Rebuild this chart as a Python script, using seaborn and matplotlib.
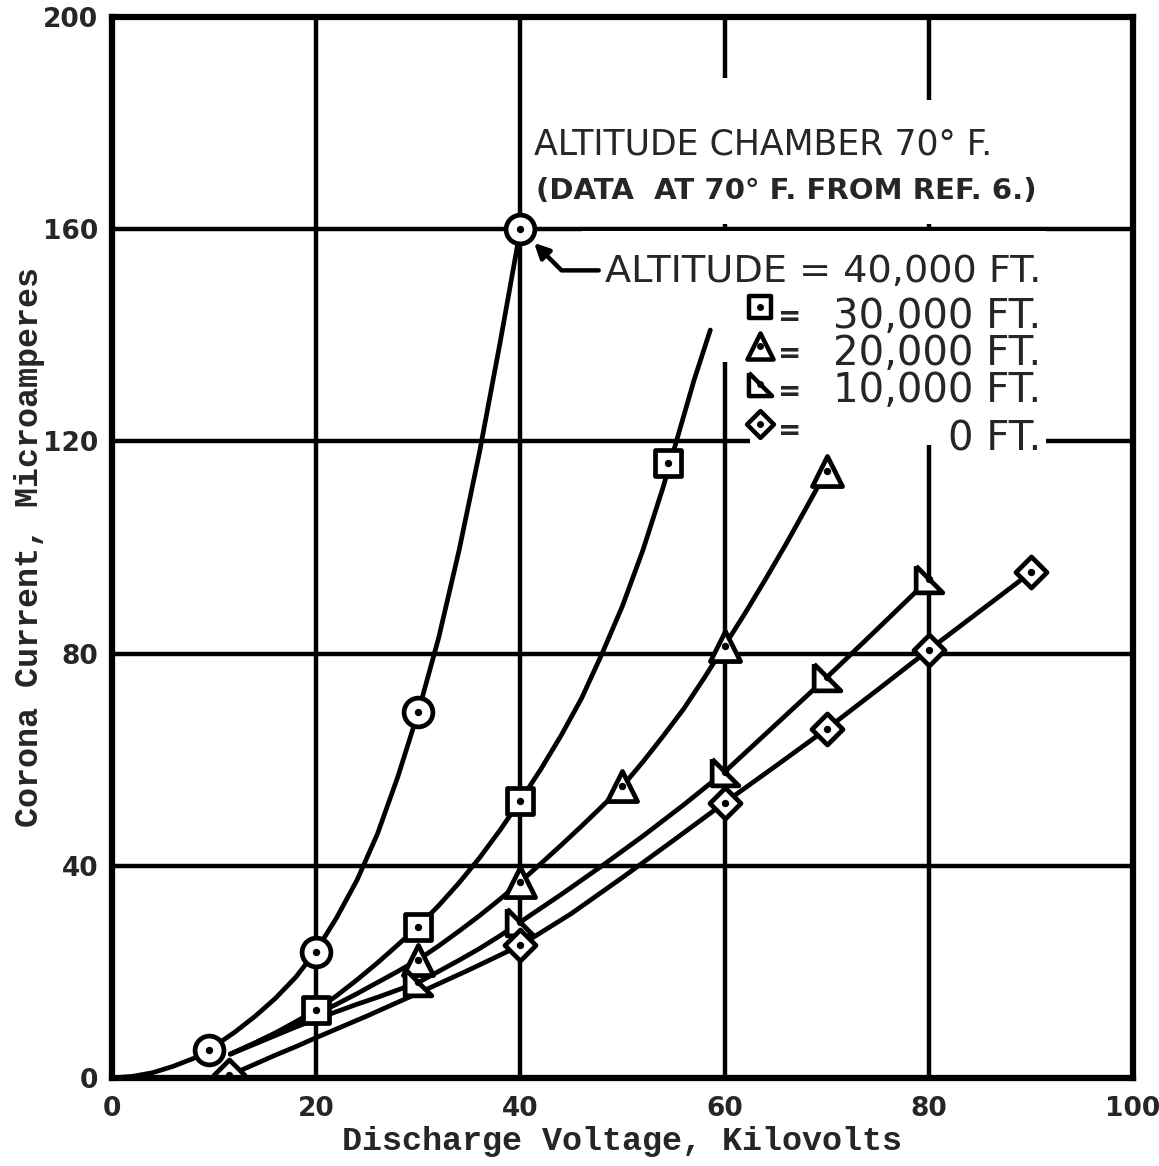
import matplotlib
matplotlib.use("Agg")
import matplotlib.pyplot as plt
from matplotlib.patches import Rectangle
import seaborn as sns
import pandas as pd

# ---------------- data ----------------
x_ticks = [0, 20, 40, 60, 80, 100]
y_ticks = [0, 40, 80, 120, 160, 200]
x_tick_labels = ["0", "20", "40", "60", "80", "100"]
y_tick_labels = ["0", "40", "80", "120", "160", "200"]

series_names = ["40,000 FT.", "30,000 FT.", "20,000 FT.", "10,000 FT.", "0 FT."]

# faired curves
c40_kv = [0, 2, 4, 6, 8, 9.5, 12, 14, 16, 18, 20, 22, 24, 26, 28, 30, 32, 34, 36, 38, 40]
c40_ua = [0, 0.3, 1.0, 2.2, 3.7, 5.3, 8.6, 11.6, 15.0, 19.0, 24, 30.2, 37.3, 46, 56.8,
          69, 83, 99.5, 118, 138.5, 160]
c30_kv = [11.6, 14, 16, 18, 20, 22, 24, 26, 28, 30, 32, 34, 36, 38, 40, 42, 44, 46, 48,
          50, 52, 54, 55.5, 57, 58.6]
c30_ua = [4.5, 6.6, 8.5, 10.6, 12.8, 15.5, 18.5, 21.7, 25.1, 28.6, 32.5, 36.8, 41.5,
          46.7, 52.3, 58.2, 64.6, 71.6, 80, 89, 99.5, 111.5, 121.5, 131.5, 141]
c20_kv = [11.6, 14, 16, 18, 20, 22, 24, 26, 28, 30, 32, 34, 36, 38, 40, 42, 44, 46, 48,
          50, 52, 54, 56, 58, 60, 62, 64, 66, 68, 70]
c20_ua = [4.5, 6.6, 8.4, 10.2, 12, 13.9, 15.9, 18, 20.1, 22.3, 24.9, 27.7, 30.6, 33.7,
          37, 40.4, 43.9, 47.5, 51.2, 55, 59.6, 64.5, 69.6, 75.4, 81.5, 87.6, 94, 100.6,
          107.5, 114.5]
c10_kv = [11.6, 14, 16, 18, 20, 22, 24, 26, 28, 30, 32, 34, 36, 38, 40, 44, 48, 52, 56,
          60, 65, 70, 75, 80]
c10_ua = [4.5, 6.4, 8.0, 9.6, 11.1, 12.5, 13.9, 15.2, 16.6, 18, 20.1, 22.2, 24.4, 26.8,
          29.4, 34.6, 40, 45.6, 51.5, 57.7, 66.6, 75.5, 84.7, 94]
c0_kv = [11.5, 14, 16, 18, 20, 25, 30, 35, 40, 45, 50, 55, 60, 65, 70, 75, 80, 85, 90]
c0_ua = [0.5, 2.6, 4.3, 5.9, 7.6, 11.7, 16.0, 20.4, 25, 31, 37.8, 44.8, 51.9, 58.8, 65.8,
         73.2, 80.7, 88, 95.3]

# measured points
p40_kv = [9.5, 20, 30, 40]
p40_ua = [5.3, 23.8, 69, 160]
p30_kv = [20, 30, 40, 54.5]
p30_ua = [12.8, 28.5, 52.3, 116]
p20_kv = [30, 40, 50, 60, 70]
p20_ua = [22.3, 37, 55, 81.5, 114.5]
p10_kv = [30, 40, 60, 70, 80]
p10_ua = [18, 29.4, 57.7, 75.5, 94]
p0_kv = [11.5, 40, 60, 70, 80, 90]
p0_ua = [0.5, 25, 51.9, 65.8, 80.7, 95.3]

curves = [(c40_kv, c40_ua), (c30_kv, c30_ua), (c20_kv, c20_ua), (c10_kv, c10_ua), (c0_kv, c0_ua)]
points = [(p40_kv, p40_ua), (p30_kv, p30_ua), (p20_kv, p20_ua), (p10_kv, p10_ua), (p0_kv, p0_ua)]

curve_df = pd.concat([pd.DataFrame({"kv": kv, "ua": ua, "series": n})
                      for n, (kv, ua) in zip(series_names, curves)], ignore_index=True)
pt_df = pd.concat([pd.DataFrame({"kv": kv, "ua": ua, "series": n})
                   for n, (kv, ua) in zip(series_names, points)], ignore_index=True)

# ---------------- style ----------------
sns.set_theme(style="white")
plt.rcParams["font.family"] = ["DejaVu Sans"]

flag_tri = [(-1, 1), (-1, -1), (1, -1), (-1, 1)]
marker_style = {
    "40,000 FT.": dict(marker="o", s=430),
    "30,000 FT.": dict(marker="s", s=360),
    "20,000 FT.": dict(marker="^", s=470),
    "10,000 FT.": dict(marker=flag_tri, s=370),
    "0 FT.": dict(marker="D", s=250),
}

fig = plt.figure(figsize=(11.59, 11.66), dpi=100)
ax = fig.add_axes([0.0966, 0.0755, 0.8810, 0.9099])

ax.set_xlim(0, 100)
ax.set_ylim(0, 200)
ax.set_axisbelow(True)
ax.grid(True, color="black", lw=3.2)
for sp in ax.spines.values():
    sp.set_color("black")
    sp.set_linewidth(4.5)
    sp.set_zorder(10)

# white areas behind the notes (grid interrupted there)
for (x0, y0, w, h) in [(41, 160.9, 29, 27.6), (70, 160.9, 28, 23.4),
                       (46, 146, 45.5, 13.6), (58, 135, 33.5, 11), (62.5, 119.4, 29, 15.6)]:
    ax.add_patch(Rectangle((x0, y0), w, h, facecolor="white", edgecolor="none", zorder=1.5))

# curves
sns.lineplot(data=curve_df, x="kv", y="ua", units="series", estimator=None, sort=False,
             color="black", lw=3.4, ax=ax, zorder=3, legend=False)

# markers
for n in series_names:
    sub = pt_df[pt_df["series"] == n]
    sns.scatterplot(data=sub, x="kv", y="ua", color="white", edgecolor="black",
                    linewidth=3.4, ax=ax, zorder=4, legend=False, **marker_style[n])
sns.scatterplot(data=pt_df, x="kv", y="ua", color="black", s=28, linewidth=0,
                marker="o", ax=ax, zorder=5, legend=False)

# ticks
ax.set_xticks(x_ticks)
ax.set_xticklabels(x_tick_labels)
ax.set_yticks(y_ticks)
ax.set_yticklabels(y_tick_labels)
ax.tick_params(length=0, labelsize=19)
ax.tick_params(axis="x", pad=13)
ax.tick_params(axis="y", pad=10)
for lab in ax.get_xticklabels() + ax.get_yticklabels():
    lab.set_fontweight("heavy")

ax.set_xlabel("Discharge Voltage, Kilovolts", family="Liberation Mono",
              fontweight="bold", fontsize=24)
ax.set_ylabel("Corona Current, Microamperes", family="Liberation Mono",
              fontweight="bold", fontsize=24)
ax.xaxis.set_label_coords(0.5, -0.045)
ax.yaxis.set_label_coords(-0.066, 0.5)

# title notes
ax.text(63.8, 176.0, "ALTITUDE CHAMBER 70° F.", ha="center", va="center",
        fontsize=25, zorder=6)
ax.text(66.0, 167.2, "(DATA  AT 70° F. FROM REF. 6.)", ha="center", va="center",
        fontsize=21, fontweight="bold", zorder=6)

# legend block
ax.annotate("ALTITUDE = 40,000 FT.", xy=(p40_kv[-1], p40_ua[-1]), xytext=(91, 151.9),
            ha="right", va="center", fontsize=27.5, zorder=6,
            arrowprops=dict(arrowstyle="-|>", color="black", lw=3.2,
                            connectionstyle="angle,angleA=0,angleB=-45,rad=0",
                            relpos=(0, 0.55), shrinkA=2, shrinkB=14, mutation_scale=22))
ax.text(91, 136.5, "\n".join(series_names[1:4]), ha="right", va="center",
        multialignment="right", fontsize=29, linespacing=0.91, zorder=6)
ax.text(91, 120.45, series_names[4], ha="right", va="center", fontsize=29, zorder=6)

leg_markers_y = [145.3, 137.9, 130.8, 123.2]
leg_eq_y = [143.4, 136.5, 129.4, 121.9]
for name, ym, ye in zip(series_names[1:], leg_markers_y, leg_eq_y):
    st = marker_style[name]
    ax.scatter([63.5], [ym], marker=st["marker"], s=st["s"] * 0.75, facecolor="white",
               edgecolor="black", linewidth=3.2, zorder=6)
    ax.scatter([63.5], [ym], marker="o", s=16, color="black", zorder=7)
    ax.text(66.4, ye, "=", ha="center", va="center", fontsize=20, fontweight="heavy", zorder=6)

fig.savefig("out.png", dpi=100, facecolor="white")
